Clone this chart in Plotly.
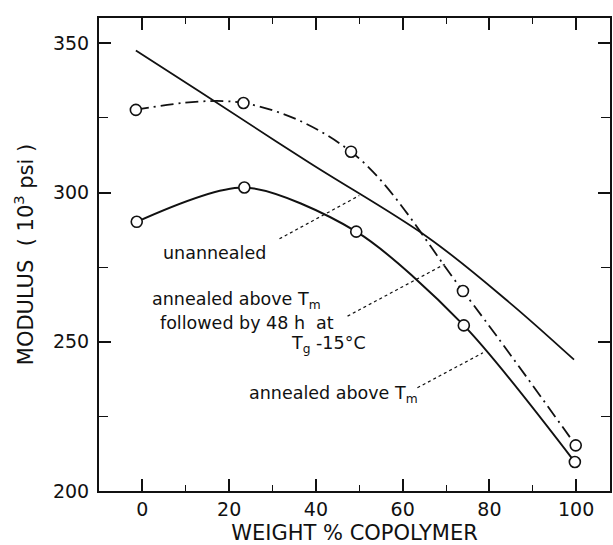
import plotly.graph_objects as go

# Modulus vs. copolymer content for three thermal histories
wt_pct = [-1.5, 23.3, 48.1, 73.9, 99.9]
mod_annealed_48h = [327.7, 330.0, 313.7, 267.0, 215.3]

wt_pct_b = [-1.3, 23.5, 49.3, 74.1, 99.7]
mod_annealed = [290.2, 301.7, 286.9, 255.5, 209.7]

# unannealed curve (drawn as a smooth line, no symbols)
wt_unann = [-1.5, 13.0, 38.5, 66.0, 84.5, 99.5]
mod_unann = [347.6, 334.0, 310.0, 284.8, 263.3, 244.0]

x_ticks = [0, 20, 40, 60, 80, 100]
y_ticks = [200, 250, 300, 350]

INK = "#111111"
FONT = "DejaVu Sans"

fig = go.Figure()

fig.add_trace(go.Scatter(
    x=wt_unann, y=mod_unann, mode="lines",
    line=dict(color=INK, width=1.8, shape="spline", smoothing=1.0),
    hoverinfo="skip", showlegend=False))

fig.add_trace(go.Scatter(
    x=wt_pct, y=mod_annealed_48h, mode="lines+markers",
    line=dict(color=INK, width=1.8, shape="spline", smoothing=1.0,
              dash="13px,5px,2px,5px"),
    marker=dict(symbol="circle", size=11, color="white",
                line=dict(color=INK, width=1.6)),
    showlegend=False))

fig.add_trace(go.Scatter(
    x=wt_pct_b, y=mod_annealed, mode="lines+markers",
    line=dict(color=INK, width=2.0, shape="spline", smoothing=0.8),
    marker=dict(symbol="circle", size=11, color="white",
                line=dict(color=INK, width=1.6)),
    showlegend=False))

# dotted leader lines from the labels to their curves
leaders = [
    ((31.6, 284.5), (50.0, 299.0)),
    ((47.3, 258.6), (69.7, 276.0)),
    ((63.4, 234.6), (78.5, 246.3)),
]
for (x0, y0), (x1, y1) in leaders:
    fig.add_shape(type="line", xref="x", yref="y", x0=x0, y0=y0, x1=x1, y1=y1,
                  line=dict(color=INK, width=1.2, dash="3px,3px"))

labels = [
    ("unannealed", 16.6, 279.8, "center"),
    ("annealed above T<sub>m</sub>", 1.7, 264.0, "left"),
    ("followed by 48 h  at", 3.6, 256.4, "left"),
    ("T<sub>g</sub> -15°C", 33.8, 249.0, "left"),
    ("annealed above T<sub>m</sub>", 24.2, 232.4, "left"),
]
for txt, x, y, anchor in labels:
    fig.add_annotation(text=txt, x=x, y=y, xref="x", yref="y",
                       xanchor=anchor, yanchor="middle", showarrow=False,
                       font=dict(family=FONT, size=17.5, color=INK))

axis_common = dict(
    showline=True, linecolor=INK, linewidth=2, mirror="ticks",
    ticks="inside", tickcolor=INK, tickwidth=1.6, ticklen=12,
    showgrid=False, zeroline=False, automargin=False,
    tickfont=dict(family=FONT, size=19, color=INK),
)

fig.update_xaxes(
    range=[-10, 107.8], tickvals=x_ticks, ticktext=[str(v) for v in x_ticks],
    minor=dict(dtick=10, tick0=0, ticks="inside", ticklen=6,
               tickcolor=INK, tickwidth=1.4),
    title=dict(text="WEIGHT % COPOLYMER", standoff=14,
               font=dict(family=FONT, size=21, color=INK)),
    **axis_common)

fig.update_yaxes(
    range=[200, 358.5], tickvals=y_ticks, ticktext=[str(v) for v in y_ticks],
    minor=dict(dtick=25, tick0=200, ticks="inside", ticklen=9,
               tickcolor=INK, tickwidth=1.4),
    title=dict(text="MODULUS  ( 10<sup>3</sup> psi )", standoff=14,
               font=dict(family=FONT, size=21, color=INK)),
    ticklabelstandoff=4,
    **axis_common)

fig.update_layout(
    width=613, height=545,
    margin=dict(l=99, r=3, t=18, b=54),
    paper_bgcolor="white", plot_bgcolor="white",
    font=dict(family=FONT, color=INK),
)

fig.write_html("out.html")
